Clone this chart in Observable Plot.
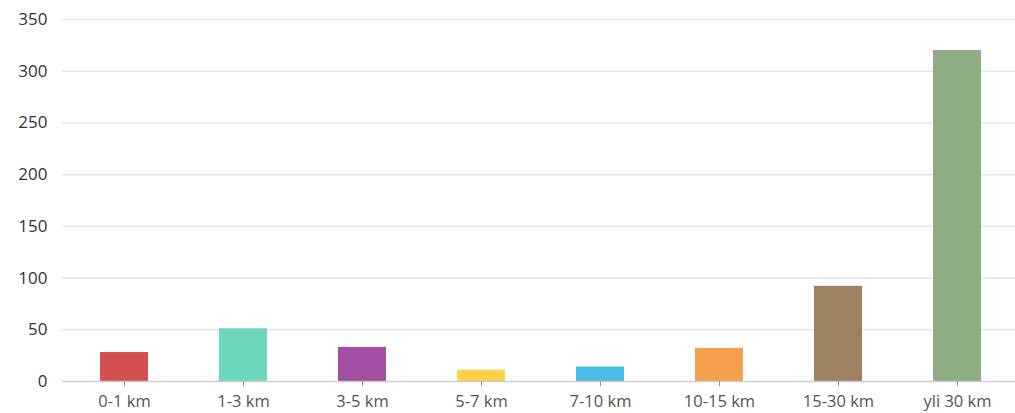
<!DOCTYPE html>
<html>
<head>
<meta charset="utf-8">
<script src="https://cdn.jsdelivr.net/npm/d3@7"></script>
<script src="https://cdn.jsdelivr.net/npm/@observablehq/plot@0.6"></script>
<style>
  html, body { margin: 0; padding: 0; background: #fff; overflow: hidden; }
  #chart svg { display: block; }
</style>
</head>
<body>
<div id="chart"></div>
<script>
const categories = ["0-1 km", "1-3 km", "3-5 km", "5-7 km", "7-10 km", "10-15 km", "15-30 km", "yli 30 km"];
const values = [28, 51, 33, 11, 14, 32, 92, 320];
const colors = ["#d64f50", "#6dd8bf", "#a34da3", "#fdd249", "#4abbe2", "#f49f4c", "#9e8063", "#8fad85"];
const yTicks = [0, 50, 100, 150, 200, 250, 300, 350];

const data = categories.map((c, i) => ({category: c, value: values[i], color: colors[i]}));

const chart = Plot.plot({
  width: 1015,
  height: 413,
  marginLeft: 62,
  marginRight: 0,
  marginTop: 19,
  marginBottom: 32,
  style: {fontFamily: "'Open Sans', sans-serif", fontSize: "16.5px", background: "#fff"},
  x: {domain: categories, range: [62, 1019], paddingInner: 0.6, paddingOuter: 0.3, label: null},
  y: {domain: [0, 350], label: null},
  marks: [
    Plot.ruleY(yTicks.filter(d => d > 0), {stroke: "#e6e6e6", strokeWidth: 1.5}),
    Plot.barY(data, {x: "category", y: "value", fill: "color"}),
    Plot.ruleY([0], {stroke: "#cccccc", strokeWidth: 1.5}),
    Plot.axisY({ticks: yTicks, tickSize: 0, tickPadding: 15, color: "#333", fontSize: 17, label: null}),
    Plot.axisX({tickSize: 5, tickPadding: 9, stroke: "#999", color: "#555", fontSize: 16.5, label: null})
  ]
});
document.getElementById("chart").appendChild(chart);
</script>
</body>
</html>
